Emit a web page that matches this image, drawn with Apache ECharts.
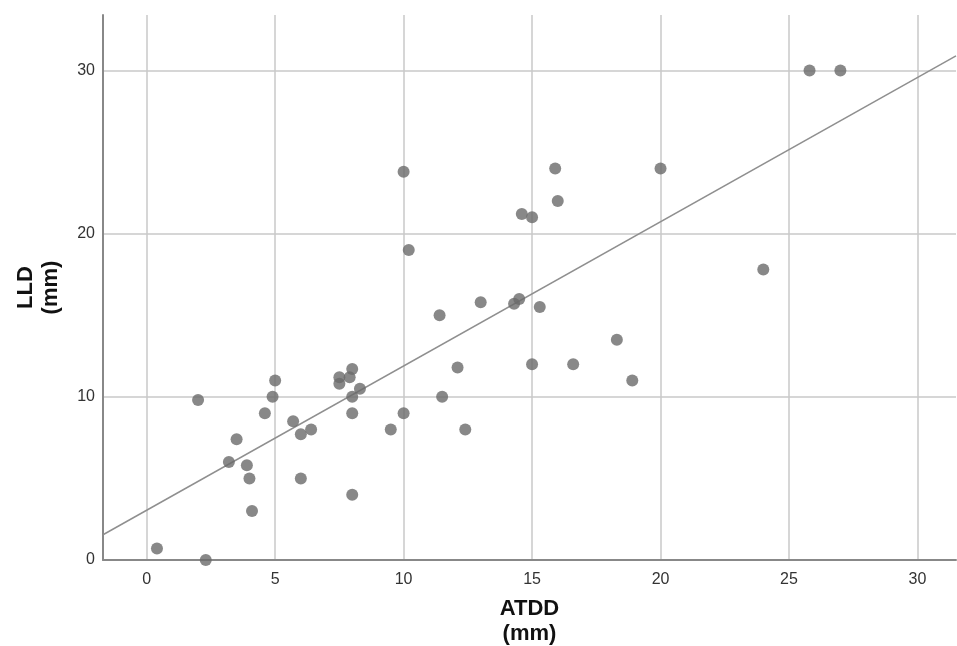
<!DOCTYPE html>
<html>
<head>
<meta charset="utf-8">
<script src="https://cdn.jsdelivr.net/npm/echarts@6/dist/echarts.min.js"></script>
<style>
  html, body { margin: 0; padding: 0; background: #fff; }
  #chart { width: 957px; height: 646px; }
</style>
</head>
<body>
<div id="chart"></div>
<script>
// ATDD (mm) vs LLD (mm)
const atdd = [
  0.4, 2.3, 2.0, 3.5, 3.2, 3.9, 4.0, 4.1, 4.6, 4.9, 5.0, 5.7, 6.0, 6.0, 6.4,
  7.5, 7.5, 7.9, 8.0, 8.3, 8.0, 8.0, 8.0, 9.5, 10.0, 10.0, 10.2, 11.4, 11.5,
  12.1, 12.4, 13.0, 14.3, 14.5, 14.6, 15.0, 15.3, 15.0, 15.9, 16.0, 16.6,
  18.3, 18.9, 20.0, 24.0, 25.8, 27.0
];
const lld = [
  0.7, 0.0, 9.8, 7.4, 6.0, 5.8, 5.0, 3.0, 9.0, 10.0, 11.0, 8.5, 7.7, 5.0, 8.0,
  11.2, 10.8, 11.2, 11.7, 10.5, 10.0, 9.0, 4.0, 8.0, 9.0, 23.8, 19.0, 15.0, 10.0,
  11.8, 8.0, 15.8, 15.7, 16.0, 21.2, 21.0, 15.5, 12.0, 24.0, 22.0, 12.0,
  13.5, 11.0, 24.0, 17.8, 30.0, 30.0
];
// fit line
const fitIntercept = 3.05;
const fitSlope = 0.884;
const xRange = [-1.7, 31.5];
const yRange = [0, 33.4];

const points = atdd.map((x, i) => [x, lld[i]]);
const fitLine = xRange.map((x) => [x, fitIntercept + fitSlope * x]);

const chart = echarts.init(document.getElementById("chart"));

const FONT = "Liberation Sans, Arial, sans-serif";
const labelStyle = { color: "#333", fontSize: 16, fontFamily: FONT };
const titleStyle = { color: "#111", fontSize: 22, fontWeight: "bold", lineHeight: 25, fontFamily: FONT };
const gridLine = { show: true, showMinLine: false, showMaxLine: false, lineStyle: { color: "#c8c8c8", width: 1.5 } };

chart.setOption({
  backgroundColor: "#fff",
  animation: false,
  grid: { left: 103, right: 1, top: 15, bottom: 86, containLabel: false, outerBoundsMode: "none" },
  xAxis: {
    type: "value",
    min: xRange[0],
    max: xRange[1],
    minInterval: 5,
    maxInterval: 5,
    name: "ATDD\n(mm)",
    nameLocation: "middle",
    nameGap: 36,
    nameTextStyle: titleStyle,
    axisLine: { show: true, onZero: false, lineStyle: { color: "#888", width: 2 } },
    axisTick: { show: false },
    axisLabel: { ...labelStyle, margin: 12, showMinLabel: false, showMaxLabel: false },
    splitLine: gridLine,
  },
  yAxis: {
    type: "value",
    min: yRange[0],
    max: yRange[1],
    minInterval: 10,
    maxInterval: 10,
    name: "LLD\n(mm)",
    nameLocation: "middle",
    nameGap: 40,
    nameRotate: 90,
    nameTextStyle: titleStyle,
    axisLine: { show: true, onZero: false, lineStyle: { color: "#888", width: 2 } },
    axisTick: { show: false },
    axisLabel: { ...labelStyle, margin: 8, showMaxLabel: false },
    splitLine: gridLine,
  },
  series: [
    {
      type: "line",
      data: fitLine,
      symbol: "none",
      silent: true,
      lineStyle: { color: "#8f8f8f", width: 1.5 },
      z: 2,
    },
    {
      type: "scatter",
      data: points,
      symbolSize: 12,
      itemStyle: { color: "#6a6a6a" },
      z: 3,
    },
  ],
});
</script>
</body>
</html>
